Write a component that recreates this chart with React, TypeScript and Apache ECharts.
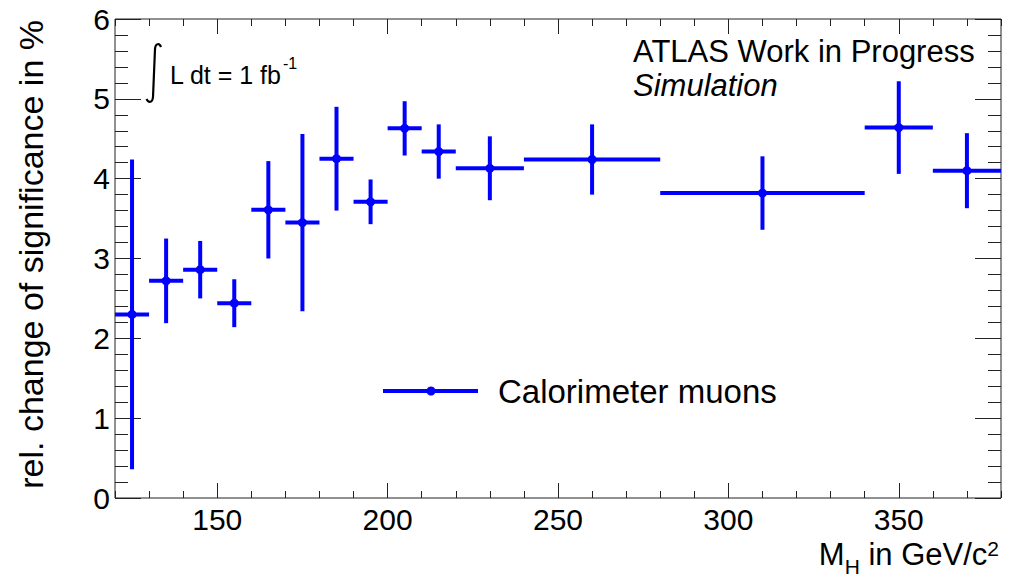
import React, { useEffect, useRef } from 'react';
import * as echarts from 'echarts';

// ---- data ----
const massCenters = [125, 135, 145, 155, 165, 175, 185, 195, 205, 215, 230, 260, 310, 350, 370];
const binLow = [120, 130, 140, 150, 160, 170, 180, 190, 200, 210, 220, 240, 280, 340, 360];
const binHigh = [130, 140, 150, 160, 170, 180, 190, 200, 210, 220, 240, 280, 340, 360, 380];
const significanceChange = [2.30, 2.72, 2.86, 2.44, 3.61, 3.45, 4.25, 3.71, 4.63, 4.34, 4.13, 4.24, 3.82, 4.64, 4.10];
const significanceError = [1.94, 0.53, 0.36, 0.30, 0.61, 1.11, 0.65, 0.28, 0.34, 0.34, 0.40, 0.44, 0.46, 0.58, 0.47];
const xMajorTicks = [150, 200, 250, 300, 350];
const seriesName = 'Calorimeter muons';

const FONT = '"Liberation Sans", Arial, Helvetica, sans-serif';
const BLUE = '#0000ff';
const AXIS = '#222222';

function textWidth(text: string, size: number, style = 'normal'): number {
  const c = document.createElement('canvas').getContext('2d');
  if (!c) return text.length * size * 0.55;
  c.font = `${style} ${size}px "Liberation Sans", Arial, sans-serif`;
  return c.measureText(text).width;
}

export default function App() {
  const ref = useRef<HTMLDivElement>(null);
  useEffect(() => {
    if (!ref.current) return;
    echarts.graphic.registerShape(
      'integral',
      echarts.graphic.extendPath('M16 4 C14.5 0 10.5 0 10 6 L8 54 C7.5 60 3.5 60 1.5 56', {})
    );
    const chart = echarts.init(ref.current, null, { renderer: 'svg' });

    const tickLine = { color: AXIS, width: 1 };
    const xBase = {
      type: 'value', min: 120, max: 380,
      axisLine: { show: false, onZero: false },
      splitLine: { show: false },
      axisLabel: { show: false },
    };
    const yBase = {
      type: 'value', min: 0, max: 6, interval: 1,
      axisLine: { show: false, onZero: false },
      splitLine: { show: false },
      axisTick: { show: true, inside: true, length: 26, lineStyle: tickLine },
      minorTick: { show: true, splitNumber: 5, length: 13, lineStyle: tickLine },
    };

    // x title pieces
    const mainSize = 31, subSize = 21;
    const wM = textWidth('M', mainSize);
    const wH = textWidth('H', subSize);
    const wRest = textWidth(' in GeV/c', mainSize);
    const w2 = textWidth('2', subSize);
    const xRight = 999;
    const xStart = xRight - (wM + wH + wRest + w2);

    const lumiSize = 25;
    const wLumi = textWidth('L dt = 1 fb', lumiSize);

    const t = (text: string, x: number, y: number, size: number, extra: any = {}) => ({
      type: 'text', x, y, silent: true,
      style: { text, fontSize: size, fontFamily: FONT, fill: '#000', align: 'left', verticalAlign: 'middle', ...(extra.style || {}) },
      ...(extra.el || {}),
    });

    const option: any = {
      animation: false,
      backgroundColor: '#ffffff',
      grid: {
        left: 115, top: 19, width: 886, height: 479,
        show: true, borderColor: AXIS, borderWidth: 1, backgroundColor: 'transparent',
        containLabel: false, outerBoundsMode: 'none',
      },
      xAxis: [
        {
          ...xBase, position: 'bottom', interval: 10,
          axisTick: { show: true, inside: true, length: 7, lineStyle: tickLine },
          axisLabel: { show: true, customValues: xMajorTicks, margin: 6, fontSize: 30, color: '#000', fontFamily: FONT },
        },
        { ...xBase, position: 'bottom', axisTick: { show: true, inside: true, length: 15, customValues: xMajorTicks, lineStyle: tickLine } },
        { ...xBase, position: 'top', interval: 10, axisTick: { show: true, inside: true, length: 7, lineStyle: tickLine } },
        { ...xBase, position: 'top', axisTick: { show: true, inside: true, length: 15, customValues: xMajorTicks, lineStyle: tickLine } },
      ],
      yAxis: [
        { ...yBase, position: 'left', axisLabel: { show: true, margin: 5, fontSize: 30, color: '#000', fontFamily: FONT } },
        { ...yBase, position: 'right', axisLabel: { show: false } },
      ],
      series: [
        {
          type: 'custom',
          name: seriesName,
          xAxisIndex: 0,
          yAxisIndex: 0,
          clip: false,
          data: massCenters.map((x, i) => [x, binLow[i], binHigh[i], significanceChange[i], significanceError[i]]),
          encode: { x: [0, 1, 2], y: 3 },
          renderItem: (_p: any, api: any) => {
            const xc = api.value(0), xl = api.value(1), xh = api.value(2), y = api.value(3), e = api.value(4);
            const pl = api.coord([xl, y]);
            const ph = api.coord([xh, y]);
            const pt = api.coord([xc, y + e]);
            const pb = api.coord([xc, y - e]);
            const pc = api.coord([xc, y]);
            return {
              type: 'group',
              children: [
                { type: 'line', shape: { x1: pl[0], y1: pl[1], x2: ph[0], y2: ph[1] }, style: { stroke: BLUE, lineWidth: 4 } },
                { type: 'line', shape: { x1: pt[0], y1: pt[1], x2: pb[0], y2: pb[1] }, style: { stroke: BLUE, lineWidth: 4 } },
                { type: 'circle', shape: { cx: pc[0], cy: pc[1], r: 4.5 }, style: { fill: BLUE } },
              ],
            };
          },
        },
      ],
      graphic: [
        t('ATLAS Work in Progress', 633, 51, 31),
        t('Simulation', 633, 85, 31, { style: { fontStyle: 'italic' } }),
        { type: 'integral', x: 145, y: 43, silent: true, style: { stroke: '#000', lineWidth: 2.2, fill: 'none' } },
        t('L dt = 1 fb', 170, 75, lumiSize),
        t('-1', 170 + wLumi + 1, 63, 16),
        // legend
        { type: 'line', silent: true, shape: { x1: 383, y1: 391, x2: 478, y2: 391 }, style: { stroke: BLUE, lineWidth: 4 } },
        { type: 'circle', silent: true, shape: { cx: 431, cy: 391, r: 4.5 }, style: { fill: BLUE } },
        t(seriesName, 498, 391, 33),
        // y axis title
        t('rel. change of significance in %', 31, 20, 34, { style: { align: 'right' }, el: { rotation: Math.PI / 2 } }),
        // x axis title
        t('M', xStart, 554, mainSize),
        t('H', xStart + wM, 566, subSize),
        t(' in GeV/c', xStart + wM + wH, 554, mainSize),
        t('2', xStart + wM + wH + wRest, 548, subSize),
      ],
    };
    chart.setOption(option);
    return () => chart.dispose();
  }, []);
  return <div ref={ref} style={{ position: 'absolute', left: 0, top: 0, width: 1011, height: 576, background: '#fff' }} />;
}
